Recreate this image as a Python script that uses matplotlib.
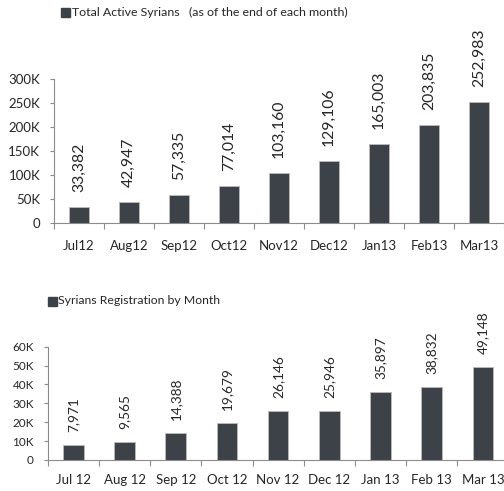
import matplotlib
matplotlib.use('Agg')
import matplotlib.pyplot as plt
from matplotlib.patches import Rectangle
from matplotlib.ticker import FuncFormatter

# 数据
months_top = ['Jul12', 'Aug12', 'Sep12', 'Oct12', 'Nov12', 'Dec12', 'Jan13', 'Feb13', 'Mar13']
total_active = [33382, 42947, 57335, 77014, 103160, 129106, 165003, 203835, 252983]

months_bottom = ['Jul 12', 'Aug 12', 'Sep 12', 'Oct 12', 'Nov 12', 'Dec 12', 'Jan 13', 'Feb 13', 'Mar 13']
registrations = [7971, 9565, 14388, 19679, 26146, 25946, 35897, 38832, 49148]

BAR = '#3d4148'
TXT = '#262626'
AXC = '#8c8c8c'

plt.rcParams['font.family'] = ['Lato', 'DejaVu Sans']

fig = plt.figure(figsize=(5.04, 4.91), dpi=100)


def k_fmt(v, pos):
    return '0' if v == 0 else f'{int(v / 1000)}K'


def draw_panel(ax, labels, values, ymax, ystep, label_gap, xlab_pad, val_size):
    n = len(values)
    x = list(range(n))
    ax.bar(x, values, width=0.4, color=BAR, edgecolor='#bbbbbb', linewidth=0.6, zorder=2)
    ax.set_xlim(-0.5, n - 0.5)
    ax.set_ylim(0, ymax)
    ax.set_yticks(range(0, ymax + 1, ystep))
    ax.yaxis.set_major_formatter(FuncFormatter(k_fmt))
    # ticks at the category boundaries, labels at the centres
    ax.set_xticks([i - 0.5 for i in range(n + 1)])
    ax.set_xticklabels([])
    ax.set_xticks(x, minor=True)
    ax.set_xticklabels(labels, minor=True)
    ax.tick_params(axis='x', which='major', direction='out', length=4, color=AXC, width=0.8)
    ax.tick_params(axis='x', which='minor', length=0, pad=xlab_pad, labelsize=9.5, labelcolor=TXT)
    ax.tick_params(axis='y', direction='out', length=3, color=AXC, width=0.8,
                   pad=7, labelsize=9.5, labelcolor=TXT)
    for s in ['top', 'right']:
        ax.spines[s].set_visible(False)
    for s in ['left', 'bottom']:
        ax.spines[s].set_color(AXC)
        ax.spines[s].set_linewidth(0.8)
    for i, v in enumerate(values):
        ax.annotate(f'{v:,}', (i, v), xytext=(0, label_gap), textcoords='offset pixels',
                    rotation=90, ha='center', va='bottom', fontsize=val_size, color=TXT,
                    annotation_clip=False)


def legend_box(x0, y0, text, size):
    # small square + text in pixel coords of the figure
    W, H = 504, 491
    fig.patches.append(Rectangle((x0 / W, 1 - (y0 + 9) / H), 9 / W, 9 / H,
                                 transform=fig.transFigure, color=BAR))
    fig.text((x0 + 11) / W, 1 - (y0 + 4.5) / H, text, fontsize=size, color=TXT,
             ha='left', va='center')


ax1 = fig.add_axes([54 / 504, 1 - 223 / 491, 450 / 504, 144 / 491])
draw_panel(ax1, months_top, total_active, 300000, 50000, 15, 12, 11.3)

ax2 = fig.add_axes([47.7 / 504, 1 - 460 / 491, 460.8 / 504, 113.3 / 491])
draw_panel(ax2, months_bottom, registrations, 60000, 10000, 13, 10, 9.8)
ax2.tick_params(axis='y', labelsize=8.5)

legend_box(61, 8, 'Total Active Syrians   (as of the end of each month)', 8.9)
legend_box(47.5, 296.5, 'Syrians Registration by Month', 8.8)

fig.savefig('out.png', dpi=100, facecolor='white')
